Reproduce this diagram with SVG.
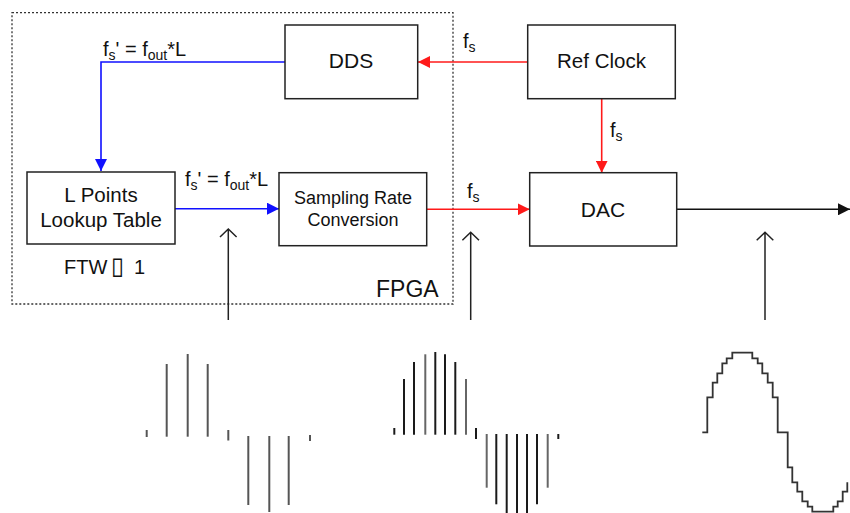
<svg xmlns="http://www.w3.org/2000/svg" width="850" height="513" viewBox="0 0 850 513">
<style>
text{font-family:"Liberation Sans",Arial,sans-serif;fill:#111}
.box{fill:#fff;stroke:#222;stroke-width:1.5}
.lbl{font-size:20px}
.sub{font-size:14px}
.blue{stroke:#1010ff;stroke-width:1.6;fill:none}
.red{stroke:#ff1a1a;stroke-width:1.6;fill:none}
.blk{stroke:#111;stroke-width:1.6;fill:none}
.up{stroke:#222;stroke-width:1.5;fill:none}
.w1{stroke:#555;stroke-width:2}
.w2{stroke:#1a1a1a;stroke-width:2}
</style>
<defs>
<marker id="ab" markerUnits="userSpaceOnUse" markerWidth="12" markerHeight="12" refX="12" refY="6" orient="auto"><path d="M0,0 L12,6 L0,12 z" fill="#1010ff"/></marker>
<marker id="ar" markerUnits="userSpaceOnUse" markerWidth="12" markerHeight="12" refX="12" refY="6" orient="auto"><path d="M0,0 L12,6 L0,12 z" fill="#ff1a1a"/></marker>
<marker id="ak" markerUnits="userSpaceOnUse" markerWidth="12" markerHeight="12" refX="12" refY="6" orient="auto"><path d="M0,0 L12,6 L0,12 z" fill="#111"/></marker>
</defs>
<rect width="850" height="513" fill="#fff"/>
<g id="fpga">
<rect x="12" y="12.7" width="441" height="291.3" fill="none" stroke="#333" stroke-width="1.3" stroke-dasharray="2,2"/>
<text x="376" y="297" style="font-size:23px">FPGA</text>
</g>
<g id="connectors">
<path class="blue" d="M285,62 H101 V171" marker-end="url(#ab)"/>
<path class="blue" d="M175,208.7 H279" marker-end="url(#ab)"/>
<path class="red" d="M527.7,62 H418" marker-end="url(#ar)"/>
<path class="red" d="M601.7,98.7 V172.7" marker-end="url(#ar)"/>
<path class="red" d="M426.7,209.3 H529.7" marker-end="url(#ar)"/>
<path class="blk" d="M676.7,209.3 H850" marker-end="url(#ak)"/>
<path class="up" d="M228.3,229 V320 M220,237 L228.3,229 L236.6,237"/>
<path class="up" d="M470.7,232.3 V320 M462.4,240.3 L470.7,232.3 L479,240.3"/>
<path class="up" d="M765,232.3 V320 M756.7,240.3 L765,232.3 L773.3,240.3"/>
<text class="lbl" x="103" y="56">f<tspan class="sub" dy="4">s</tspan><tspan dy="-4">' = f</tspan><tspan class="sub" dy="4">out</tspan><tspan dy="-4">*L</tspan></text>
<text class="lbl" x="185" y="186">f<tspan class="sub" dy="4">s</tspan><tspan dy="-4">' = f</tspan><tspan class="sub" dy="4">out</tspan><tspan dy="-4">*L</tspan></text>
<text class="lbl" x="463" y="48">f<tspan class="sub" dy="4">s</tspan></text>
<text class="lbl" x="610" y="137">f<tspan class="sub" dy="4">s</tspan></text>
<text class="lbl" x="467" y="198">f<tspan class="sub" dy="4">s</tspan></text>
</g>
<g id="dds">
<rect class="box" x="285" y="25" width="132.7" height="73.7"/>
<text x="351" y="68" text-anchor="middle" style="font-size:21px">DDS</text>
</g>
<g id="refclock">
<rect class="box" x="527.7" y="25" width="147.6" height="73.7"/>
<text x="601.5" y="68" text-anchor="middle" style="font-size:20.5px">Ref Clock</text>
</g>
<g id="lut">
<rect class="box" x="27" y="172" width="148" height="72"/>
<text x="101" y="202" text-anchor="middle" style="font-size:20.5px">L Points</text>
<text x="101" y="227" text-anchor="middle" style="font-size:20.5px">Lookup Table</text>
<text x="64" y="274" style="font-size:20px">FTW<tspan x="111" y="274" style="font-size:24px;font-family:'DejaVu Sans',sans-serif">▯</tspan><tspan x="134" y="274">1</tspan></text>
</g>
<g id="src">
<rect class="box" x="279" y="172.7" width="147.7" height="73"/>
<text x="353" y="204" text-anchor="middle" style="font-size:18px">Sampling Rate</text>
<text x="353" y="226" text-anchor="middle" style="font-size:18px">Conversion</text>
</g>
<g id="dac">
<rect class="box" x="529.7" y="172.7" width="147" height="73.3"/>
<text x="603" y="217" text-anchor="middle" style="font-size:21px">DAC</text>
</g>
<g id="wave1" class="w1">
<line x1="146.7" y1="430" x2="146.7" y2="437"/>
<line x1="166.7" y1="364" x2="166.7" y2="436.7"/>
<line x1="187.7" y1="354" x2="187.7" y2="436.7"/>
<line x1="207.7" y1="364" x2="207.7" y2="436.7"/>
<line x1="228.3" y1="430" x2="228.3" y2="440.5"/>
<line x1="248.3" y1="436" x2="248.3" y2="505"/>
<line x1="269.3" y1="436" x2="269.3" y2="512"/>
<line x1="288.7" y1="436" x2="288.7" y2="505"/>
<line x1="310" y1="435" x2="310" y2="441"/>
</g>
<g id="wave2" class="w2">
<line x1="394.3" y1="428" x2="394.3" y2="434.7"/>
<line x1="404" y1="379" x2="404" y2="434.7"/>
<line x1="414" y1="362" x2="414" y2="434.7"/>
<line x1="425.3" y1="354.3" x2="425.3" y2="434.7" stroke="#666"/>
<line x1="435.3" y1="352" x2="435.3" y2="434.7"/>
<line x1="445" y1="354.3" x2="445" y2="434.7"/>
<line x1="455.3" y1="362" x2="455.3" y2="434.7"/>
<line x1="466" y1="379" x2="466" y2="434.7" stroke="#666"/>
<line x1="476" y1="428" x2="476" y2="439"/>
<line x1="486.7" y1="434" x2="486.7" y2="487.7" stroke="#666"/>
<line x1="496.3" y1="434" x2="496.3" y2="504.3"/>
<line x1="506.7" y1="434" x2="506.7" y2="513"/>
<line x1="517" y1="434" x2="517" y2="513"/>
<line x1="527" y1="434" x2="527" y2="513"/>
<line x1="537" y1="434" x2="537" y2="504.3"/>
<line x1="547.7" y1="434" x2="547.7" y2="487.7" stroke="#666"/>
<line x1="558.3" y1="434" x2="558.3" y2="439"/>
</g>
<g id="wave3">
<path fill="none" stroke="#333" stroke-width="1.8" d="M702.3,432.3 H707.3 V397.3 H712.7 V382.7 H717.3 V373.3 H722.3 V363.3 H726.7 V358.3 H732.3 V352.7 H752.3 V358.3 H757.7 V363.3 H762.3 V373.3 H767.7 V382.7 H772.7 V397.3 H777.7 V432.3 H787.7 V467.3 H792.3 V482.3 H797.3 V491.7 H802.3 V501.3 H807.7 V506.7 H812.3 V511.7 H833.3 V506.7 H837.7 V501.3 H842.7 V491.7 H847.3 V482.3"/>
</g>
</svg>
